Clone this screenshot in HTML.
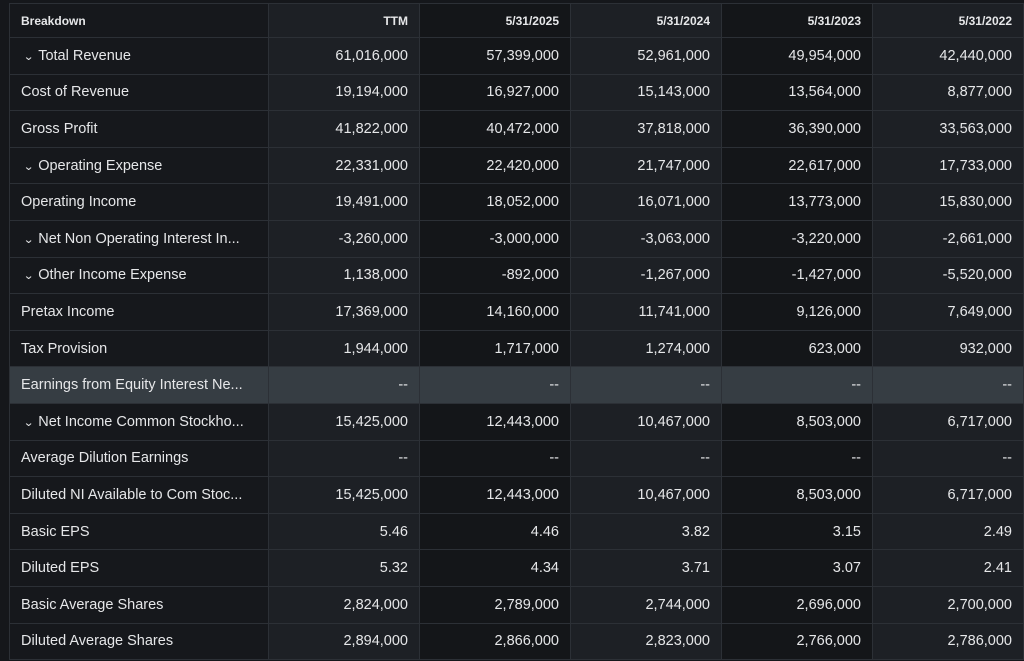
<!DOCTYPE html>
<html><head><style>
body{margin:0;background:#15171b;width:1024px;height:661px;overflow:hidden;font-family:"Liberation Sans",Arial,sans-serif;color:#e6e7e9}
table{position:absolute;left:9px;top:3px;border-collapse:collapse;table-layout:fixed;width:1014px}
td,th{height:35.6px;border:1px solid #2c3036;padding:0 11px;font-size:14.5px;white-space:nowrap;overflow:hidden}
th{height:33px;font-size:12px;font-weight:bold;text-align:right}
th:first-child{text-align:left}
td{text-align:right}
td:first-child{text-align:left}
col.a{background:#16181c}col.b{background:#1d2025}col.c{background:#141619}
tr.hl td{background:#363d43}
.ch{display:inline-block;font-size:11px;margin:0 5px 0 3px;transform:scaleX(1.2)}
</style></head><body>
<table>
<colgroup><col class="a" style="width:259px"><col class="b" style="width:151px"><col class="c" style="width:151px"><col class="b" style="width:151px"><col class="c" style="width:151px"><col class="b" style="width:151px"></colgroup>
<tr><th>Breakdown</th><th>TTM</th><th>5/31/2025</th><th>5/31/2024</th><th>5/31/2023</th><th>5/31/2022</th></tr>
<tr><td><span class="ch">⌄</span>Total Revenue</td><td>61,016,000</td><td>57,399,000</td><td>52,961,000</td><td>49,954,000</td><td>42,440,000</td></tr>
<tr><td>Cost of Revenue</td><td>19,194,000</td><td>16,927,000</td><td>15,143,000</td><td>13,564,000</td><td>8,877,000</td></tr>
<tr><td>Gross Profit</td><td>41,822,000</td><td>40,472,000</td><td>37,818,000</td><td>36,390,000</td><td>33,563,000</td></tr>
<tr><td><span class="ch">⌄</span>Operating Expense</td><td>22,331,000</td><td>22,420,000</td><td>21,747,000</td><td>22,617,000</td><td>17,733,000</td></tr>
<tr><td>Operating Income</td><td>19,491,000</td><td>18,052,000</td><td>16,071,000</td><td>13,773,000</td><td>15,830,000</td></tr>
<tr><td><span class="ch">⌄</span>Net Non Operating Interest In...</td><td>-3,260,000</td><td>-3,000,000</td><td>-3,063,000</td><td>-3,220,000</td><td>-2,661,000</td></tr>
<tr><td><span class="ch">⌄</span>Other Income Expense</td><td>1,138,000</td><td>-892,000</td><td>-1,267,000</td><td>-1,427,000</td><td>-5,520,000</td></tr>
<tr><td>Pretax Income</td><td>17,369,000</td><td>14,160,000</td><td>11,741,000</td><td>9,126,000</td><td>7,649,000</td></tr>
<tr><td>Tax Provision</td><td>1,944,000</td><td>1,717,000</td><td>1,274,000</td><td>623,000</td><td>932,000</td></tr>
<tr class="hl"><td>Earnings from Equity Interest Ne...</td><td>--</td><td>--</td><td>--</td><td>--</td><td>--</td></tr>
<tr><td><span class="ch">⌄</span>Net Income Common Stockho...</td><td>15,425,000</td><td>12,443,000</td><td>10,467,000</td><td>8,503,000</td><td>6,717,000</td></tr>
<tr><td>Average Dilution Earnings</td><td>--</td><td>--</td><td>--</td><td>--</td><td>--</td></tr>
<tr><td>Diluted NI Available to Com Stoc...</td><td>15,425,000</td><td>12,443,000</td><td>10,467,000</td><td>8,503,000</td><td>6,717,000</td></tr>
<tr><td>Basic EPS</td><td>5.46</td><td>4.46</td><td>3.82</td><td>3.15</td><td>2.49</td></tr>
<tr><td>Diluted EPS</td><td>5.32</td><td>4.34</td><td>3.71</td><td>3.07</td><td>2.41</td></tr>
<tr><td>Basic Average Shares</td><td>2,824,000</td><td>2,789,000</td><td>2,744,000</td><td>2,696,000</td><td>2,700,000</td></tr>
<tr><td>Diluted Average Shares</td><td>2,894,000</td><td>2,866,000</td><td>2,823,000</td><td>2,766,000</td><td>2,786,000</td></tr>
</table>
</body></html>
